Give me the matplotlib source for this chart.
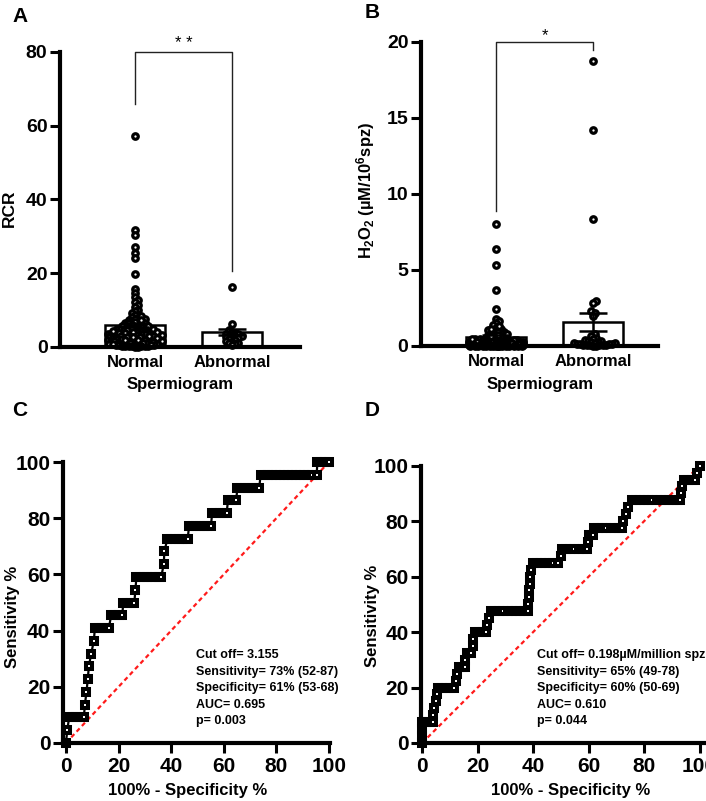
import numpy as np
import matplotlib
matplotlib.use('Agg')
import matplotlib.pyplot as plt

# ---------------- data ----------------
groups = ['Normal', 'Abnormal']

rcr_normal = [57.2, 31.8, 30.3, 27.1, 25.6, 24.0, 19.7, 15.7, 14.6, 13.6, 12.8, 12.3, 11.4, 10.9,
              10.1, 9.7, 9.2, 8.8, 8.6, 8.1, 7.9, 7.6, 7.4, 7.1, 6.9, 6.6, 6.5, 6.2, 6.0, 5.9, 5.6,
              5.5, 5.3, 5.1, 5.0, 4.9, 4.7, 4.6, 4.4, 4.3, 4.3, 4.1, 4.0, 3.9, 3.8, 3.8, 3.6, 3.5,
              3.5, 3.4, 3.3, 3.2, 3.1, 3.1, 3.0, 2.9, 2.8, 2.8, 2.7, 2.6, 2.5, 2.5, 2.4, 2.3, 2.2,
              2.2, 2.1, 2.0, 1.9, 1.9, 1.8, 1.7, 1.6, 1.6, 1.5, 1.4, 1.3, 1.3, 1.2, 1.1, 1.0, 0.9,
              0.9, 0.8, 0.7, 0.6, 0.5, 0.4, 0.3, 0.2, 8.4, 7.7, 7.2, 6.8, 6.4, 6.1, 5.8, 5.7, 5.4,
              5.2, 4.9, 4.8, 4.6, 4.5, 4.4, 4.2, 4.1, 3.9, 3.7, 3.7, 3.6, 3.4, 3.3, 3.2, 3.0, 3.0,
              2.9, 2.7, 2.6, 2.6, 2.4, 2.3, 2.1, 2.0, 2.0, 1.8, 1.7, 1.5, 1.4, 1.2, 1.1, 1.0, 0.8,
              0.7, 0.6, 0.5, 0.4, 0.3, 0.3, 0.2, 0.1, 0.1]
rcr_abnormal = [16.3, 6.3, 4.6, 4.2, 3.9, 3.6, 3.4, 3.3, 3.1, 3.0, 2.9, 2.7, 2.5, 2.3, 2.1, 1.9,
                1.6, 1.4, 1.2, 1.0, 0.8, 0.5]
rcr_mean = [6.0, 4.1]
rcr_sem = [0.6, 0.8]

h2o2_normal = [8.0, 6.4, 5.35, 3.66, 2.46, 1.8, 1.65, 1.5, 1.35, 1.2, 1.1, 1.0, 0.92, 0.85, 0.78,
               0.7, 0.66, 0.6, 0.55, 0.5, 0.47, 0.44, 0.4, 0.38, 0.35, 0.33, 0.3, 0.3, 0.28, 0.26,
               0.25, 0.24, 0.22, 0.21, 0.2, 0.2, 0.19, 0.18, 0.17, 0.16, 0.15, 0.15, 0.14, 0.13,
               0.12, 0.12, 0.11, 0.1, 0.1, 0.09, 0.09, 0.08, 0.08, 0.07, 0.07, 0.06, 0.06, 0.05,
               0.05, 0.05, 0.04, 0.04, 0.03, 0.03, 0.03, 0.02, 0.02, 0.02, 0.01, 0.01, 0.45, 0.42,
               0.37, 0.34, 0.31, 0.29, 0.27, 0.23, 0.21, 0.18, 0.16, 0.14, 0.13, 0.11, 0.1, 0.09,
               0.08, 0.07, 0.06, 0.05, 0.04, 0.04, 0.03, 0.02, 0.02, 0.01, 0.01, 0.0, 0.0, 0.0,
               1.05, 0.95, 0.88, 0.8, 0.72, 0.64, 1.3, 1.15]
h2o2_abnormal = [18.73, 14.19, 8.33, 2.94, 2.83, 2.3, 2.15, 1.95, 0.8, 0.65, 0.55, 0.45, 0.4,
                 0.35, 0.32, 0.28, 0.25, 0.22, 0.2, 0.18, 0.15, 0.13, 0.12, 0.1, 0.09, 0.08,
                 0.07, 0.06, 0.05, 0.04, 0.03, 0.02]
h2o2_mean = [0.6, 1.6]
h2o2_sem = [0.12, 0.6]

# ROC C (RCR): sensitivity levels and the (100-specificity) points at each level
c_sens_levels = [0, 4.55, 9.09, 13.64, 18.18, 22.73, 27.27, 31.82, 36.36, 40.91, 45.45, 50.0,
                 54.55, 59.09, 63.64, 68.18, 72.73, 77.27, 81.82, 86.36, 90.91, 95.45, 100]
c_fpr_runs = [[0], [0.5], [1.2, 2.5, 3.8, 5.2, 6.8], [7.2], [7.8], [8.3], [8.7], [9.6], [10.6],
              [11.0, 12.4, 13.7, 15.0, 16.3], [17.2, 18.6, 20.0, 21.4], [21.8, 23.2, 24.6, 26.0],
              [26.4], [26.8, 28.2, 29.6, 31.0, 32.4, 33.8, 35.2, 36.2], [37.2], [37.4],
              [38.6, 40.0, 41.4, 42.8, 44.2, 45.6, 46.3], [46.8, 48.2, 49.6, 51.0, 52.4, 53.8, 55.1],
              [55.6, 57.0, 58.4, 59.8, 61.1], [61.6, 63.0, 64.7],
              [65.2, 66.6, 68.0, 69.4, 70.8, 72.2, 73.5],
              [74.0, 75.5, 77.0, 78.5, 80.0, 81.5, 83.0, 84.5, 86.0, 87.5, 89.0, 90.5, 92.0, 93.5, 95.3],
              [95.6, 97.0, 98.5, 100]]

# ROC D (H2O2)
d_sens_levels = [0, 2.5, 5, 7.5, 10, 12.5, 15, 17.5, 20, 22.5, 25, 27.5, 30, 32.5, 35, 37.5, 40,
                 42.5, 45, 47.5, 50, 52.5, 55, 57.5, 60, 62.5, 65, 67.5, 70, 72.5, 75, 77.5, 80,
                 82.5, 85, 87.5, 90, 92.5, 95, 97.5, 100]
d_fpr_runs = [[0], [0], [0], [0, 1.3, 2.6, 3.8], [4.1], [4.4], [5.0], [5.3],
              [5.6, 7.0, 8.5, 10.0, 11.5], [12.2], [12.6], [13.3, 14.5, 15.3], [15.5], [16.1, 17.6],
              [18.3], [18.5], [19.0, 20.5, 22.0, 23.0], [23.5], [24.2],
              [24.8, 26.3, 27.8, 29.3, 30.8, 32.3, 33.8, 35.3, 36.8, 38.0], [38.2], [38.4], [38.6],
              [38.8], [39.0], [39.4], [39.8, 41.3, 42.8, 44.3, 45.8, 47.3, 48.8], [50.2],
              [50.4, 51.9, 53.4, 54.9, 56.4, 57.9, 59.4], [59.8], [60.2, 61.5],
              [62.0, 63.4, 64.9, 66.4, 67.9, 69.4, 70.9, 72.0], [72.4], [73.4], [74.2],
              [75.5, 77.0, 78.5, 80.0, 81.5, 83.0, 84.5, 86.0, 87.5, 89.0, 90.5, 92.0, 92.8],
              [93.2], [93.8], [94.4, 95.8, 97.2, 98.4], [99.0], [100]]

chance_line = [0, 100]
roc_ticks = [0, 20, 40, 60, 80, 100]

c_text = ['Cut off= 3.155', 'Sensitivity= 73% (52-87)', 'Specificity= 61% (53-68)',
          'AUC= 0.695', 'p= 0.003']
d_text = ['Cut off= 0.198\u00b5M/million spz', 'Sensitivity= 65% (49-78)',
          'Specificity= 60% (50-69)', 'AUC= 0.610', 'p= 0.044']

# ---------------- style ----------------
plt.rcParams['font.family'] = ['Liberation Sans', 'DejaVu Sans']
plt.rcParams['font.weight'] = 'bold'
plt.rcParams['mathtext.fontset'] = 'custom'
plt.rcParams['mathtext.rm'] = 'Liberation Sans:bold'
plt.rcParams['mathtext.bf'] = 'Liberation Sans:bold'
plt.rcParams['mathtext.it'] = 'Liberation Sans:bold'

W, H = 706, 801
fig = plt.figure(figsize=(W / 100, H / 100), dpi=100)


def fx(px):
    return px / W


def fy(py):
    return 1 - py / H


def add_ax(l, t, r, b):
    return fig.add_axes([fx(l), fy(b), (r - l) / W, (b - t) / H])


def style(ax):
    for s in ['top', 'right']:
        ax.spines[s].set_visible(False)
    for s in ['left', 'bottom']:
        ax.spines[s].set_linewidth(3)
        ax.spines[s].set_capstyle('projecting')
    ax.tick_params(axis='both', width=2.2, length=7, color='black')


def swarm_offsets(vals, ppx, ppy, d=3.2, maxw=28.0):
    vals = np.asarray(vals, float)
    order = np.argsort(vals)
    placed = []
    offs = np.zeros(len(vals))
    step = d / 2
    cands = [0.0]
    k = 1
    while k * step <= maxw:
        cands += [k * step, -k * step]
        k += 1
    for i in order:
        yp = vals[i] * ppy
        near = [(px, py) for px, py in placed if abs(py - yp) < d]
        best, bestd = 0.0, -1.0
        for c in cands:
            md = min((np.hypot(c - px, yp - py) for px, py in near), default=1e9)
            if md >= d:
                best = c
                break
            if md > bestd:
                bestd, best = md, c
        placed.append((best, yp))
        offs[i] = best / ppx
    return offs


def scatter_bar(ax, data, means, sems, ppx, ppy):
    xs = np.arange(len(means))
    ax.bar(xs, means, width=0.62, color='white', edgecolor='black', linewidth=1.8, zorder=1)
    for x, vals in zip(xs, data):
        off = swarm_offsets(vals, ppx, ppy)
        ax.plot(x + off, vals, 'o', ms=4.0, mfc='white', mec='black', mew=2.3,
                zorder=2, clip_on=False)
    ax.errorbar(xs, means, yerr=sems, fmt='none', ecolor='black', elinewidth=1.8,
                capsize=10, capthick=1.8, zorder=3)
    ax.set_xticks(xs)
    ax.set_xticklabels(groups, fontsize=12, fontweight='bold')
    ax.tick_params(axis='x', length=0, pad=6)
    ax.tick_params(axis='y', labelsize=14, pad=2)


# ---------------- Panel A ----------------
axA = add_ax(60, 52, 300, 347)
style(axA)
axA.set_xlim(-0.773, 1.70)
axA.set_ylim(0, 80)
axA.set_yticks([0, 20, 40, 60, 80])
scatter_bar(axA, [rcr_normal, rcr_abnormal], rcr_mean, rcr_sem, 97, 295 / 80)
axA.plot([0, 0, 1, 1], [66, 80, 80, 20.5], color='#222222', lw=1.0, clip_on=False, zorder=4)
axA.text(0.5, 80.3, '* *', ha='center', va='bottom', fontsize=12, fontweight='normal')
fig.text(fx(9), fy(208), 'RCR', rotation=90, ha='center', va='center', fontsize=12.5,
         fontweight='bold')
fig.text(fx(180), fy(384), 'Spermiogram', ha='center', va='center', fontsize=12,
         fontweight='bold')

# ---------------- Panel B ----------------
axB = add_ax(421, 42, 658, 346)
style(axB)
axB.set_xlim(-0.773, 1.67)
axB.set_ylim(0, 20)
axB.set_yticks([0, 5, 10, 15, 20])
scatter_bar(axB, [h2o2_normal, h2o2_abnormal], h2o2_mean, h2o2_sem, 97, 304 / 20)
axB.plot([0, 0, 1, 1], [8.9, 20, 20, 19.45], color='#222222', lw=1.0, clip_on=False, zorder=4)
axB.text(0.5, 19.9, '*', ha='center', va='bottom', fontsize=12, fontweight='normal')
fig.text(fx(366), fy(190), 'H$_{2}$O$_{2}$ (\u00b5M/10$^{6}$spz)',
         rotation=90, ha='center', va='center', fontsize=12, fontweight='bold')
fig.text(fx(540), fy(384), 'Spermiogram', ha='center', va='center', fontsize=12,
         fontweight='bold')


# ---------------- ROC panels ----------------
def roc(ax, levels, runs):
    xs, ys = [], []
    for lv, run in zip(levels, runs):
        for v in run:
            xs.append(v)
            ys.append(lv)
    ax.plot(chance_line, chance_line, color='#ff1a1a', lw=1.6, ls=(0, (2, 1.5)), zorder=1)
    ax.plot(xs, ys, '-s', color='black', lw=1.6, ms=4.2, mfc='white', mec='black', mew=2.9,
            zorder=2, clip_on=False)
    ax.set_ylim(0, 100)
    ax.set_xticks(roc_ticks)
    ax.set_yticks(roc_ticks)
    ax.tick_params(axis='both', labelsize=15, width=2.2, length=7)
    ax.tick_params(axis='x', pad=3)
    ax.tick_params(axis='y', pad=2)


LINE = 16.6
axC = add_ax(62.8, 462, 330.3, 743)
style(axC)
axC.set_xlim(-1.2, 100.5)
roc(axC, c_sens_levels, c_fpr_runs)
for i, t in enumerate(c_text):
    fig.text(fx(196), fy(655 + i * LINE), t, ha='left', va='center', fontsize=9,
             fontweight='bold')
fig.text(fx(12), fy(617), 'Sensitivity %', rotation=90, ha='center', va='center',
         fontsize=12, fontweight='bold')
fig.text(fx(188), fy(790), '100% - Specificity %', ha='center', va='center', fontsize=12,
         fontweight='bold')

axD = add_ax(421, 465.7, 706, 743)
style(axD)
axD.set_xlim(-0.4, 102.3)
roc(axD, d_sens_levels, d_fpr_runs)
for i, t in enumerate(d_text):
    fig.text(fx(537), fy(655 + i * LINE), t, ha='left', va='center', fontsize=9,
             fontweight='bold')
fig.text(fx(373), fy(616), 'Sensitivity %', rotation=90, ha='center', va='center',
         fontsize=12, fontweight='bold')
fig.text(fx(571), fy(790), '100% - Specificity %', ha='center', va='center', fontsize=12,
         fontweight='bold')

# panel letters
for lab, x, y in [('A', 12, 22), ('B', 365, 18), ('C', 12, 416), ('D', 365, 416)]:
    fig.text(fx(x), fy(y), lab, ha='left', va='baseline', fontsize=15, fontweight='bold')

fig.savefig('out.png', dpi=100)
